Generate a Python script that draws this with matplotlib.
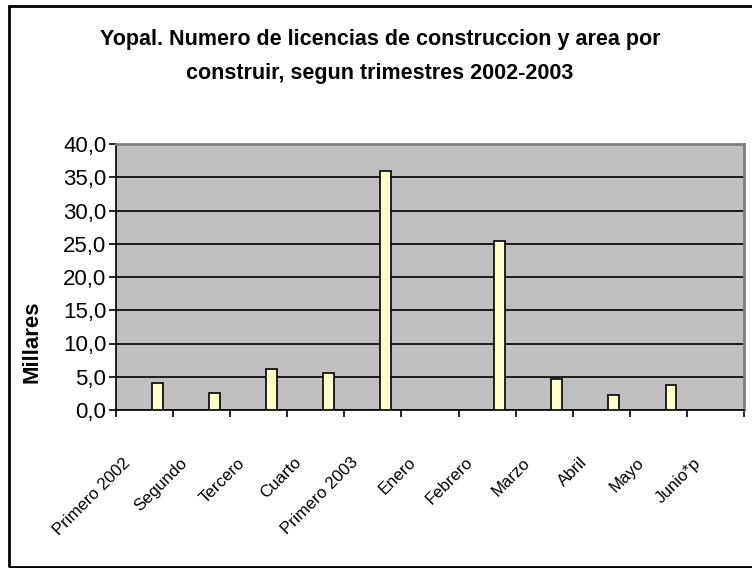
import matplotlib
matplotlib.use("Agg")
import matplotlib.pyplot as plt
import matplotlib.transforms as mtransforms
from matplotlib.patches import Rectangle
from matplotlib.ticker import FuncFormatter, MultipleLocator

plt.rcParams["font.family"] = ["Liberation Sans", "DejaVu Sans"]

# datos (millares de m2 por construir)
periodos = ["Primero 2002", "Segundo", "Tercero", "Cuarto", "Primero 2003",
            "Enero", "Febrero", "Marzo", "Abril", "Mayo", "Junio*p"]
area = [4.1, 2.6, 6.2, 5.6, 36.0, 0.0, 25.4, 4.7, 2.3, 3.8, 0.0]

W, H = 752, 568
fig = plt.figure(figsize=(W / 100, H / 100), dpi=100)

# marco del grafico (cortado a la derecha)
fig.patches.append(Rectangle((9 / W, 1 - 567 / H), 1.2, (567 - 6) / H,
                             transform=fig.transFigure, fill=False,
                             lw=2, ec="black", zorder=0))

ax = fig.add_axes([116 / W, 1 - 410 / H, (744 - 116) / W, (410 - 144) / H])
ax.set_facecolor("#c0c0c0")

x = list(range(len(periodos)))
xb = [i + 0.22 for i in x]          # serie visible desplazada dentro del grupo
ax.bar(xb, area, width=0.19, color="#ffffcc", edgecolor="black", lw=1.2, zorder=3)

ax.set_xlim(-0.5, len(periodos) - 0.5)
ax.set_ylim(0, 40)
ax.yaxis.set_major_locator(MultipleLocator(5))
ax.yaxis.set_major_formatter(FuncFormatter(lambda v, p: f"{v:.1f}".replace(".", ",")))
ax.grid(axis="y", color="black", lw=1.2, zorder=1)

ax.set_xticks([i - 0.5 for i in x] + [len(periodos) - 0.5])
ax.set_xticklabels([])
ax.tick_params(axis="x", length=5, width=1.2, direction="out")
ax.tick_params(axis="y", length=5, width=1.2, direction="out", labelsize=16, pad=2)

off = mtransforms.ScaledTranslation(-22 / 100, -45 / 100, fig.dpi_scale_trans)
for i, lab in zip(x, periodos):
    ax.text(i, 0, lab, transform=ax.get_xaxis_transform() + off, rotation=45,
            ha="right", va="top", rotation_mode="anchor", fontsize=12.2)

for s in ("top", "right"):
    ax.spines[s].set_color("#808080")
    ax.spines[s].set_linewidth(2)
for s in ("left", "bottom"):
    ax.spines[s].set_linewidth(1.2)

fig.text(32 / W, 1 - 342 / H, "Millares", rotation=90, ha="center", va="center",
         fontsize=16, fontweight="bold")
fig.text(380 / W, 1 - 40 / H, "Yopal. Numero de licencias de construccion y area por",
         ha="center", va="center", fontsize=15.5, fontweight="bold")
fig.text(380 / W, 1 - 74 / H, "construir, segun trimestres 2002-2003",
         ha="center", va="center", fontsize=15.5, fontweight="bold")

fig.savefig("out.png", dpi=100)
